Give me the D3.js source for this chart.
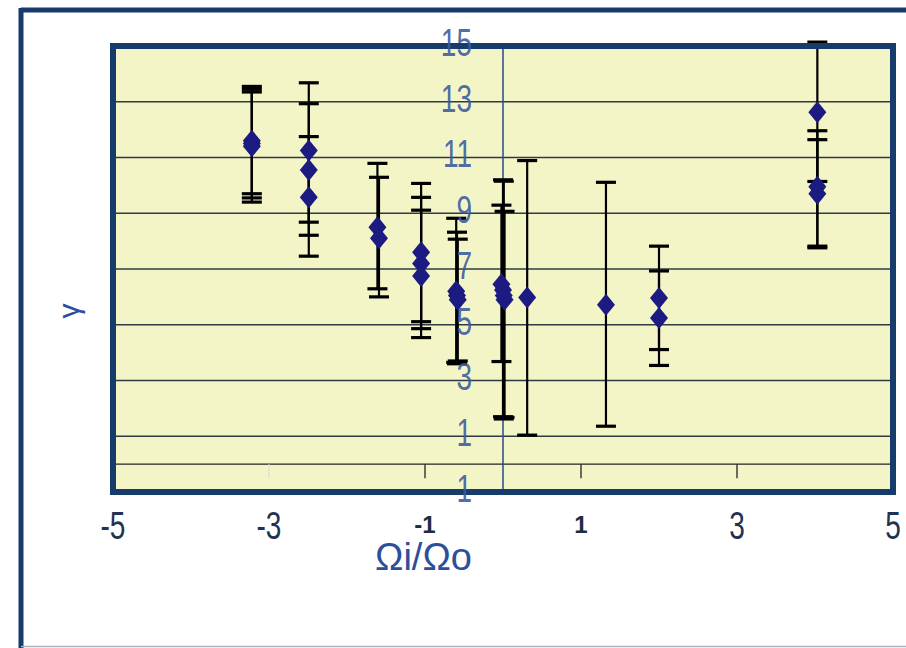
<!DOCTYPE html>
<html>
<head>
<meta charset="utf-8">
<script src="https://cdn.jsdelivr.net/npm/d3@7"></script>
<style>
  body { margin: 0; background: #fff; }
  text { font-family: "Liberation Sans", Arial, sans-serif; }
</style>
</head>
<body>
<script>
var width = 906;
var height = 648;

// each point: x, gamma, lower error end, upper error end
var xVals  = [-3.22, -3.22, -3.22, -2.49, -2.49, -2.49, -1.61, -1.59, -1.05, -1.05, -1.05,
              -0.60, -0.59, -0.58, -0.02, 0.00, 0.01, 0.02, 0.31, 1.32, 2.00, 2.00, 4.03, 4.03, 4.03];
var gammas = [11.6, 11.5, 11.4, 11.25, 10.55, 9.57, 8.5, 8.1, 7.6, 7.2, 6.75,
              6.2, 6.05, 5.9, 6.45, 6.25, 6.05, 5.9, 5.98, 5.72, 5.96, 5.24, 12.62, 9.95, 9.7];
var lows   = [9.7, 9.55, 9.4, 8.68, 8.21, 7.46, 6.29, 6.0, 5.11, 4.86, 4.54,
              3.65, 3.6, 3.7, 3.68, 1.7, 1.62, 1.68, 1.04, 1.36, 4.11, 3.54, 10.14, 7.82, 7.76];
var highs  = [13.55, 13.45, 13.35, 13.68, 12.93, 11.75, 10.79, 10.29, 10.07, 9.57, 9.11,
              8.82, 8.32, 8.07, 9.29, 10.2, 10.15, 9.07, 10.89, 10.11, 7.82, 6.93, 15.14, 11.96, 11.64];

var gridValues = [1, 3, 5, 7, 9, 11, 13];
var yTickValues = [15, 13, 11, 9, 7, 5, 3, 1, -1];
var yTickLabels = ["15", "13", "11", "9", "7", "5", "3", "1", "1"];
var xTickValues = [-3, -1, 1, 3];
var xBigLabels = [[-5, "-5"], [-3, "-3"], [3, "3"], [5, "5"]];
var xSmallLabels = [[-1, "-1"], [1, "1"]];

var points = xVals.map(function(x, i) {
    return {x: x, y: gammas[i], lo: lows[i], hi: highs[i]};
});

var svg = d3.select('body')
    .append('svg')
    .attr('width', width)
    .attr('height', height);

var x = d3.scaleLinear().domain([-5, 5]).range([113, 893]);
var y = d3.scaleLinear().domain([-1, 15]).range([492, 46]);

// outer frame
svg.append('line').attr('x1', 21).attr('x2', 910).attr('y1', 10).attr('y2', 10)
    .attr('stroke', '#173c6c').attr('stroke-width', 5);
svg.append('line').attr('x1', 21).attr('x2', 21).attr('y1', 8).attr('y2', 650)
    .attr('stroke', '#173c6c').attr('stroke-width', 5);
svg.append('line').attr('x1', 21).attr('x2', 906).attr('y1', 646.5).attr('y2', 646.5)
    .attr('stroke', '#a9b3bd').attr('stroke-width', 1.5);

// plot area
svg.append('rect')
    .attr('x', x(-5)).attr('y', y(15))
    .attr('width', x(5) - x(-5)).attr('height', y(-1) - y(15))
    .attr('fill', '#f4f5c6');

svg.append('g').selectAll('line')
    .data(gridValues)
    .enter()
    .append('line')
    .attr('x1', x(-5)).attr('x2', x(5))
    .attr('y1', d => y(d)).attr('y2', d => y(d))
    .attr('stroke', '#2e3a44')
    .attr('stroke-width', 1.7);

// x axis crossing at gamma = 0
var xAxis = svg.append('g').attr('transform', 'translate(0,' + y(0) + ')');
xAxis.append('line').attr('x1', x(-5)).attr('x2', x(5))
    .attr('stroke', '#222').attr('stroke-width', 1.4);
xAxis.selectAll('.tick')
    .data(xTickValues)
    .enter()
    .append('line')
    .attr('x1', d => x(d)).attr('x2', d => x(d))
    .attr('y1', 0).attr('y2', 14)
    .attr('stroke', d => d == -3 ? '#ddd' : '#222')
    .attr('stroke-width', 1.3);

// y axis crossing at x = 0
svg.append('line')
    .attr('x1', x(0)).attr('x2', x(0))
    .attr('y1', y(15)).attr('y2', y(-1))
    .attr('stroke', '#2d4a8c').attr('stroke-width', 1.5);

// error bars
var bars = svg.append('g');
bars.selectAll('.stem')
    .data(points)
    .enter()
    .append('line')
    .attr('x1', d => x(d.x)).attr('x2', d => x(d.x))
    .attr('y1', d => y(d.lo)).attr('y2', d => y(d.hi))
    .attr('stroke', '#000').attr('stroke-width', 2.2);

var caps = [];
points.forEach(function(d) {
    caps.push({x: d.x, v: d.lo});
    caps.push({x: d.x, v: d.hi});
});
bars.selectAll('.cap')
    .data(caps)
    .enter()
    .append('line')
    .attr('x1', d => x(d.x) - 10).attr('x2', d => x(d.x) + 10)
    .attr('y1', d => y(d.v)).attr('y2', d => y(d.v))
    .attr('stroke', '#000').attr('stroke-width', 3.2);

// markers
svg.append('g').selectAll('path')
    .data(points)
    .enter()
    .append('path')
    .attr('d', 'M0,-11L9,0L0,11L-9,0Z')
    .attr('transform', d => 'translate(' + x(d.x) + ',' + y(d.y) + ')')
    .attr('fill', '#1b1b82');

// plot border
svg.append('rect')
    .attr('x', x(-5)).attr('y', y(15))
    .attr('width', x(5) - x(-5)).attr('height', y(-1) - y(15))
    .attr('fill', 'none')
    .attr('stroke', '#173c6c').attr('stroke-width', 6);

// y tick labels (sit on the y axis)
svg.append('g').selectAll('text')
    .data(yTickValues)
    .enter()
    .append('text')
    .attr('transform', d => 'translate(472,' + y(d) + ') scale(1,1.4)')
    .attr('y', 7)
    .attr('text-anchor', 'end')
    .attr('font-size', 28)
    .attr('fill', '#3a5a9e')
    .attr('fill-opacity', 0.9)
    .text((d, i) => yTickLabels[i]);

// x tick labels
svg.append('g').selectAll('text')
    .data(xBigLabels)
    .enter()
    .append('text')
    .attr('transform', d => 'translate(' + x(d[0]) + ',539) scale(1,1.4)')
    .attr('text-anchor', 'middle')
    .attr('font-size', 28)
    .attr('fill', '#1f3352')
    .text(d => d[1]);

svg.append('g').selectAll('text')
    .data(xSmallLabels)
    .enter()
    .append('text')
    .attr('x', d => x(d[0]))
    .attr('y', 533)
    .attr('text-anchor', 'middle')
    .attr('font-size', 24)
    .attr('font-weight', 'bold')
    .attr('fill', '#1c2c44')
    .text(d => d[1]);

// axis titles
svg.append('text')
    .attr('x', 375).attr('y', 570)
    .attr('font-size', 38)
    .attr('fill', '#2c4f9c')
    .text('Ωi/Ωo');

svg.append('text')
    .attr('transform', 'translate(79,311) rotate(-90)')
    .attr('text-anchor', 'middle')
    .attr('font-size', 30)
    .attr('fill', '#2c4f9c')
    .text('γ');
</script>
</body>
</html>
